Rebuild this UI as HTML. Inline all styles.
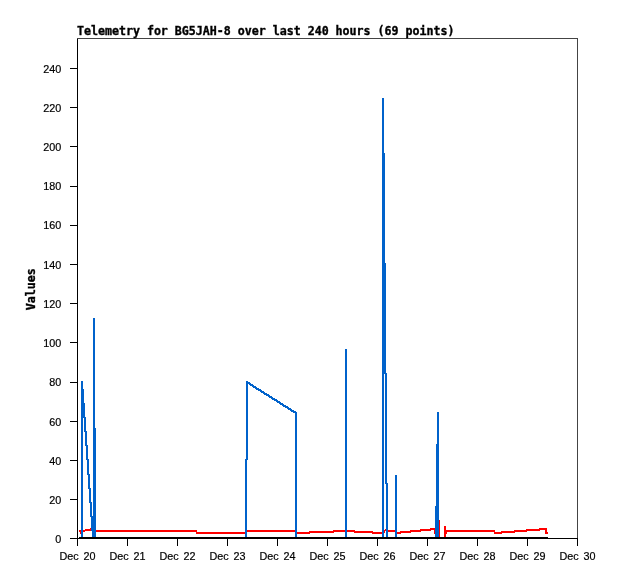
<!DOCTYPE html><html><head><meta charset="utf-8"><title>Telemetry</title><style>
html,body{margin:0;padding:0;background:#fff}
#c{position:relative;width:618px;height:579px;overflow:hidden;background:#fff}
text{white-space:pre}
</style></head><body><div id="c">
<svg width="618" height="579" viewBox="0 0 618 579" shape-rendering="crispEdges" style="position:absolute;left:0;top:0">
<rect width="618" height="579" fill="#fff"/>
<g fill="#ff0000"><rect x="79" y="530" width="6" height="2"/><rect x="80" y="532" width="1" height="2"/><rect x="85" y="529" width="7" height="2"/><rect x="90" y="528" width="2" height="1"/><rect x="92" y="530" width="105" height="2"/><rect x="196" y="530" width="1" height="4"/><rect x="196" y="532" width="51" height="2"/><rect x="246" y="530" width="51" height="2"/><rect x="296" y="532" width="14" height="2"/><rect x="309" y="531" width="25" height="2"/><rect x="333" y="530" width="22" height="2"/><rect x="354" y="531" width="19" height="2"/><rect x="372" y="532" width="12" height="2"/><rect x="384" y="530" width="1" height="3"/><rect x="385" y="529" width="1" height="2"/><rect x="386" y="530" width="11" height="2"/><rect x="397" y="532" width="4" height="2"/><rect x="400" y="531" width="11" height="2"/><rect x="410" y="530" width="11" height="2"/><rect x="420" y="529" width="11" height="2"/><rect x="430" y="528" width="5" height="2"/><rect x="434" y="528" width="1" height="6"/><rect x="439" y="520" width="1" height="17"/><rect x="444" y="526" width="2" height="11"/><rect x="446" y="530" width="1" height="4"/><rect x="446" y="530" width="49" height="2"/><rect x="494" y="532" width="8" height="2"/><rect x="501" y="531" width="14" height="2"/><rect x="514" y="530" width="13" height="2"/><rect x="526" y="529" width="14" height="2"/><rect x="539" y="528" width="8" height="2"/><rect x="545" y="528" width="2" height="6"/><rect x="546" y="532" width="2" height="2"/></g>
<g fill="#0062cb"><rect x="81" y="381" width="2" height="156"/><rect x="93" y="318" width="2" height="219"/><rect x="95" y="428" width="1" height="109"/><rect x="245" y="459" width="2" height="78"/><rect x="246" y="381" width="2" height="79"/><rect x="295" y="412" width="2" height="125"/><rect x="345" y="349" width="2" height="188"/><rect x="382" y="98" width="2" height="439"/><rect x="384" y="153" width="1" height="221"/><rect x="385" y="263" width="1" height="221"/><rect x="386" y="373" width="1" height="164"/><rect x="387" y="483" width="1" height="54"/><rect x="395" y="475" width="2" height="62"/><rect x="437" y="412" width="2" height="125"/><rect x="436" y="444" width="1" height="93"/><rect x="435" y="506" width="1" height="31"/><rect x="82" y="389" width="2" height="15"/><rect x="83" y="403" width="2" height="15"/><rect x="84" y="417" width="2" height="15"/><rect x="85" y="431" width="2" height="15"/><rect x="86" y="445" width="2" height="15"/><rect x="87" y="459" width="2" height="16"/><rect x="88" y="474" width="2" height="15"/><rect x="89" y="488" width="2" height="15"/><rect x="90" y="502" width="2" height="15"/><rect x="91" y="516" width="2" height="15"/><rect x="92" y="530" width="2" height="7"/><rect x="248" y="382" width="2" height="2"/><rect x="249" y="383" width="2" height="2"/><rect x="250" y="384" width="2" height="2"/><rect x="251" y="384" width="2" height="2"/><rect x="252" y="385" width="2" height="2"/><rect x="253" y="386" width="2" height="2"/><rect x="254" y="386" width="2" height="2"/><rect x="255" y="387" width="2" height="2"/><rect x="256" y="388" width="2" height="2"/><rect x="257" y="388" width="2" height="2"/><rect x="258" y="389" width="2" height="2"/><rect x="259" y="389" width="2" height="2"/><rect x="260" y="390" width="2" height="2"/><rect x="261" y="391" width="2" height="2"/><rect x="262" y="391" width="2" height="2"/><rect x="263" y="392" width="2" height="2"/><rect x="264" y="393" width="2" height="2"/><rect x="265" y="393" width="2" height="2"/><rect x="266" y="394" width="2" height="2"/><rect x="267" y="394" width="2" height="2"/><rect x="268" y="395" width="2" height="2"/><rect x="269" y="396" width="2" height="2"/><rect x="270" y="396" width="2" height="2"/><rect x="271" y="397" width="2" height="2"/><rect x="272" y="398" width="2" height="2"/><rect x="273" y="398" width="2" height="2"/><rect x="274" y="399" width="2" height="2"/><rect x="275" y="399" width="2" height="2"/><rect x="276" y="400" width="2" height="2"/><rect x="277" y="401" width="2" height="2"/><rect x="278" y="401" width="2" height="2"/><rect x="279" y="402" width="2" height="2"/><rect x="280" y="403" width="2" height="2"/><rect x="281" y="403" width="2" height="2"/><rect x="282" y="404" width="2" height="2"/><rect x="283" y="405" width="2" height="2"/><rect x="284" y="405" width="2" height="2"/><rect x="285" y="406" width="2" height="2"/><rect x="286" y="406" width="2" height="2"/><rect x="287" y="407" width="2" height="2"/><rect x="288" y="408" width="2" height="2"/><rect x="289" y="408" width="2" height="2"/><rect x="290" y="409" width="2" height="2"/><rect x="291" y="410" width="2" height="2"/><rect x="292" y="410" width="2" height="2"/><rect x="293" y="411" width="2" height="2"/><rect x="294" y="411" width="2" height="2"/></g>
<g fill="#000"><rect x="79" y="537" width="469" height="2"/>
<rect x="77" y="38" width="1" height="508"/><rect x="70" y="538" width="508" height="1"/>
<rect x="70" y="68" width="7" height="1"/>
<rect x="70" y="107" width="7" height="1"/>
<rect x="70" y="146" width="7" height="1"/>
<rect x="70" y="186" width="7" height="1"/>
<rect x="70" y="225" width="7" height="1"/>
<rect x="70" y="264" width="7" height="1"/>
<rect x="70" y="303" width="7" height="1"/>
<rect x="70" y="342" width="7" height="1"/>
<rect x="70" y="382" width="7" height="1"/>
<rect x="70" y="421" width="7" height="1"/>
<rect x="70" y="460" width="7" height="1"/>
<rect x="70" y="499" width="7" height="1"/>
<rect x="70" y="538" width="7" height="1"/>
<rect x="77" y="538" width="1" height="8"/>
<rect x="127" y="538" width="1" height="8"/>
<rect x="177" y="538" width="1" height="8"/>
<rect x="227" y="538" width="1" height="8"/>
<rect x="277" y="538" width="1" height="8"/>
<rect x="327" y="538" width="1" height="8"/>
<rect x="377" y="538" width="1" height="8"/>
<rect x="427" y="538" width="1" height="8"/>
<rect x="477" y="538" width="1" height="8"/>
<rect x="527" y="538" width="1" height="8"/>
<rect x="577" y="538" width="1" height="8"/>
</g>
<g fill="#444"><rect x="77" y="38" width="501" height="1"/><rect x="577" y="38" width="1" height="500"/></g>
<g fill="#000" stroke="#000" stroke-width="0.35" font-family="DejaVu Sans Mono, Liberation Mono, monospace" font-weight="bold" font-size="11.628">
<text transform="translate(77,35)">Telemetry for BG5JAH-8 over last 240 hours (69 points)</text>
<text transform="translate(35,310.3) rotate(-90)">Values</text>
</g>
<g fill="#000" stroke="#000" stroke-width="0.2" font-family="Liberation Sans, Arial, sans-serif" font-size="10.8">
<text x="61.3" y="73" text-anchor="end">240</text>
<text x="61.3" y="112" text-anchor="end">220</text>
<text x="61.3" y="151" text-anchor="end">200</text>
<text x="61.3" y="190" text-anchor="end">180</text>
<text x="61.3" y="229" text-anchor="end">160</text>
<text x="61.3" y="269" text-anchor="end">140</text>
<text x="61.3" y="308" text-anchor="end">120</text>
<text x="61.3" y="347" text-anchor="end">100</text>
<text x="61.3" y="386" text-anchor="end">80</text>
<text x="61.3" y="426" text-anchor="end">60</text>
<text x="61.3" y="465" text-anchor="end">40</text>
<text x="61.3" y="504" text-anchor="end">20</text>
<text x="61.3" y="543" text-anchor="end">0</text>
<text x="77.5" y="560" text-anchor="middle" word-spacing="1.8">Dec 20</text>
<text x="127.5" y="560" text-anchor="middle" word-spacing="1.8">Dec 21</text>
<text x="177.5" y="560" text-anchor="middle" word-spacing="1.8">Dec 22</text>
<text x="227.5" y="560" text-anchor="middle" word-spacing="1.8">Dec 23</text>
<text x="277.5" y="560" text-anchor="middle" word-spacing="1.8">Dec 24</text>
<text x="327.5" y="560" text-anchor="middle" word-spacing="1.8">Dec 25</text>
<text x="377.5" y="560" text-anchor="middle" word-spacing="1.8">Dec 26</text>
<text x="427.5" y="560" text-anchor="middle" word-spacing="1.8">Dec 27</text>
<text x="477.5" y="560" text-anchor="middle" word-spacing="1.8">Dec 28</text>
<text x="527.5" y="560" text-anchor="middle" word-spacing="1.8">Dec 29</text>
<text x="577.5" y="560" text-anchor="middle" word-spacing="1.8">Dec 30</text>
</g>
</svg>
</div></body></html>
